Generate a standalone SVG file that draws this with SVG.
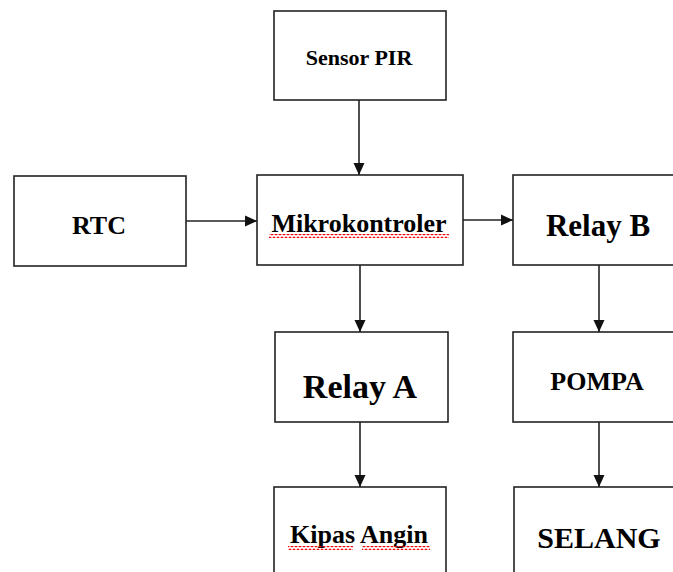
<svg xmlns="http://www.w3.org/2000/svg" width="673" height="572" viewBox="0 0 673 572">
<style>
.box{fill:#fff;stroke:#222;stroke-width:1.6}
.lbl{font-family:"Liberation Serif","Times New Roman",serif;font-weight:bold;fill:#000;text-anchor:middle}
.con{stroke:#222;stroke-width:1.6;fill:none;marker-end:url(#ah)}
</style>
<defs>
<marker id="ah" markerUnits="userSpaceOnUse" markerWidth="12" markerHeight="12" viewBox="0 0 12 12" refX="12" refY="6" orient="auto">
<path d="M0,0.5 L12,6 L0,11.5 z" fill="#111"/>
</marker>
<pattern id="wave" patternUnits="userSpaceOnUse" width="4" height="4">
<path d="M0,3 L2,1 L4,3" stroke="#e00" stroke-width="1.1" fill="none"/>
</pattern>
</defs>
<rect width="673" height="572" fill="#fff"/>
<g id="connectors">
<line class="con" x1="359" y1="100" x2="359" y2="175"/>
<line class="con" x1="186" y1="221" x2="257" y2="221"/>
<line class="con" x1="463" y1="220" x2="513" y2="220"/>
<line class="con" x1="360" y1="265" x2="360" y2="332"/>
<line class="con" x1="599" y1="265" x2="599" y2="332"/>
<line class="con" x1="360" y1="422" x2="360" y2="487"/>
<line class="con" x1="599" y1="422" x2="599" y2="487"/>
</g>
<g id="sensor-pir">
<rect class="box" x="274" y="11" width="172" height="89"/>
<text class="lbl" x="359" y="65" font-size="22">Sensor PIR</text>
</g>
<g id="rtc">
<rect class="box" x="14" y="176" width="172" height="90"/>
<text class="lbl" x="99" y="234" font-size="26">RTC</text>
</g>
<g id="mikrokontroler">
<rect class="box" x="257" y="175" width="206" height="90"/>
<text class="lbl" x="359" y="232" font-size="26">Mikrokontroler</text>
<rect x="269" y="234" width="180" height="4" fill="url(#wave)"/>
</g>
<g id="relay-b">
<rect class="box" x="513" y="175" width="172" height="90"/>
<text class="lbl" x="598" y="236" font-size="31">Relay B</text>
</g>
<g id="relay-a">
<rect class="box" x="275" y="332" width="173" height="90"/>
<text class="lbl" x="360" y="398" font-size="34">Relay A</text>
</g>
<g id="pompa">
<rect class="box" x="513" y="332" width="172" height="90"/>
<text class="lbl" x="597" y="390" font-size="26">POMPA</text>
</g>
<g id="kipas-angin">
<rect class="box" x="274" y="487" width="172" height="100"/>
<text class="lbl" x="359" y="543" font-size="26">Kipas Angin</text>
<rect x="288" y="546" width="65" height="4" fill="url(#wave)"/>
<rect x="362" y="546" width="68" height="4" fill="url(#wave)"/>
</g>
<g id="selang">
<rect class="box" x="514" y="487" width="172" height="100"/>
<text class="lbl" x="599" y="548" font-size="30">SELANG</text>
</g>
</svg>
